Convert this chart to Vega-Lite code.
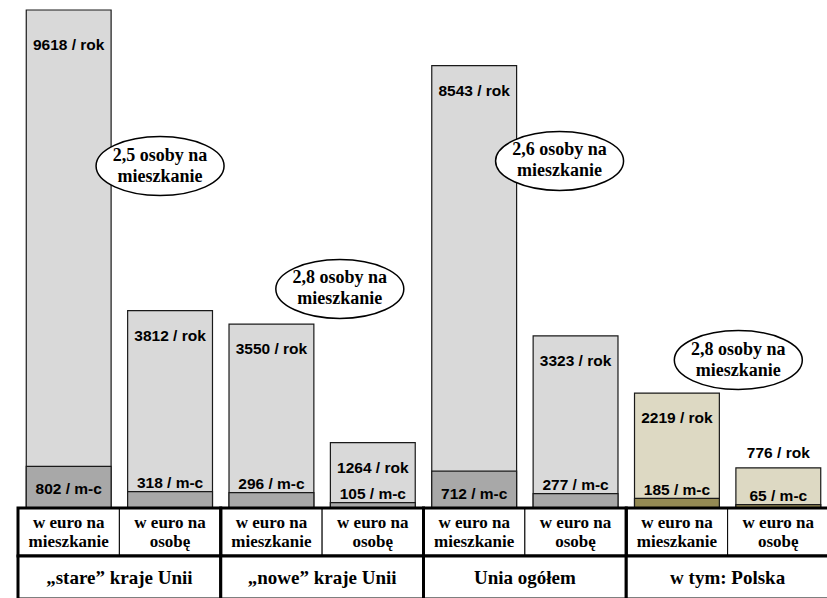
{
  "$schema": "https://vega.github.io/schema/vega-lite/v6.json",
  "padding": {"left": 16, "top": 0, "right": 0, "bottom": 0},
  "background": "white",
  "spacing": 0,
  "bounds": "flush",
  "config": {"view": {"stroke": null}},
  "datasets": {
    "bars": [
      {"col": "A1", "kind": "eu", "yearly": 9618, "monthly": 802, "rok": "9618 / rok", "mc": "802 / m-c", "sub": "w euro na\nmieszkanie"},
      {"col": "A2", "kind": "eu", "yearly": 3812, "monthly": 318, "rok": "3812 / rok", "mc": "318 / m-c", "sub": "w euro na\nosobę"},
      {"col": "B1", "kind": "eu", "yearly": 3550, "monthly": 296, "rok": "3550 / rok", "mc": "296 / m-c", "sub": "w euro na\nmieszkanie"},
      {"col": "B2", "kind": "eu", "yearly": 1264, "monthly": 105, "rok": "1264 / rok", "mc": "105 / m-c", "sub": "w euro na\nosobę"},
      {"col": "C1", "kind": "eu", "yearly": 8543, "monthly": 712, "rok": "8543 / rok", "mc": "712 / m-c", "sub": "w euro na\nmieszkanie"},
      {"col": "C2", "kind": "eu", "yearly": 3323, "monthly": 277, "rok": "3323 / rok", "mc": "277 / m-c", "sub": "w euro na\nosobę"},
      {"col": "D1", "kind": "pl", "yearly": 2219, "monthly": 185, "rok": "2219 / rok", "mc": "185 / m-c", "sub": "w euro na\nmieszkanie"},
      {"col": "D2", "kind": "pl", "yearly": 776, "monthly": 65, "rok": "776 / rok", "mc": "65 / m-c", "sub": "w euro na\nosobę"}
    ],
    "notes": [
      {"id": 1, "col": "A2", "ey": 6605, "note": "2,5 osoby na\nmieszkanie"},
      {"id": 2, "col": "B2", "ey": 4230, "note": "2,8 osoby na\nmieszkanie"},
      {"id": 3, "col": "C2", "ey": 6702, "note": "2,6 osoby na\nmieszkanie"},
      {"id": 4, "col": "D2", "ey": 2858, "note": "2,8 osoby na\nmieszkanie"}
    ],
    "groups": [
      {"group": "„stare” kraje Unii"},
      {"group": "„nowe” kraje Unii"},
      {"group": "Unia ogółem"},
      {"group": "w tym: Polska"}
    ]
  },
  "vconcat": [
    {
      "width": 811,
      "height": 508,
      "data": {"name": "bars"},
      "encoding": {
        "x": {"field": "col", "type": "nominal", "sort": null, "axis": null,
              "scale": {"domain": ["A1","A2","B1","B2","C1","C2","D1","D2"], "paddingInner": 0.163, "paddingOuter": 0.0815}}
      },
      "layer": [
        {
          "mark": {"type": "bar", "stroke": "#1a1a1a", "strokeWidth": 1.2},
          "encoding": {
            "y": {"field": "yearly", "type": "quantitative", "axis": null, "scale": {"domain": [0, 9811], "nice": false}},
            "fill": {"condition": {"test": "datum.kind === 'pl'", "value": "#ddd9c3"}, "value": "#d9d9d9"}
          }
        },
        {
          "mark": {"type": "bar", "stroke": "#1a1a1a", "strokeWidth": 1.2},
          "encoding": {
            "y": {"field": "monthly", "type": "quantitative", "axis": null, "scale": {"domain": [0, 9811], "nice": false}},
            "fill": {"condition": {"test": "datum.kind === 'pl'", "value": "#948a54"}, "value": "#a8a8a8"}
          }
        },
        {
          "transform": [{"filter": "datum.yearly > 9000"}],
          "mark": {"type": "text", "font": "Liberation Sans", "fontWeight": "bold", "fontSize": 15.5, "baseline": "middle", "dy": 35, "color": "black"},
          "encoding": {
            "y": {"field": "yearly", "type": "quantitative", "axis": null, "scale": {"domain": [0, 9811], "nice": false}},
            "text": {"field": "rok"}
          }
        },
        {
          "transform": [{"filter": "datum.yearly > 1000 && datum.yearly < 9000"}],
          "mark": {"type": "text", "font": "Liberation Sans", "fontWeight": "bold", "fontSize": 15.5, "baseline": "middle", "dy": 25, "color": "black"},
          "encoding": {
            "y": {"field": "yearly", "type": "quantitative", "axis": null, "scale": {"domain": [0, 9811], "nice": false}},
            "text": {"field": "rok"}
          }
        },
        {
          "transform": [{"filter": "datum.yearly < 1000"}],
          "mark": {"type": "text", "font": "Liberation Sans", "fontWeight": "bold", "fontSize": 15.5, "baseline": "middle", "dy": -14.5, "color": "black"},
          "encoding": {
            "y": {"field": "yearly", "type": "quantitative", "axis": null, "scale": {"domain": [0, 9811], "nice": false}},
            "text": {"field": "rok"}
          }
        },
        {
          "transform": [{"filter": "datum.monthly > 500"}],
          "mark": {"type": "text", "font": "Liberation Sans", "fontWeight": "bold", "fontSize": 15.5, "baseline": "middle", "dy": 23, "color": "black"},
          "encoding": {
            "y": {"field": "monthly", "type": "quantitative", "axis": null, "scale": {"domain": [0, 9811], "nice": false}},
            "text": {"field": "mc"}
          }
        },
        {
          "transform": [{"filter": "datum.monthly < 500"}],
          "mark": {"type": "text", "font": "Liberation Sans", "fontWeight": "bold", "fontSize": 15.5, "baseline": "middle", "dy": -8.5, "color": "black"},
          "encoding": {
            "y": {"field": "monthly", "type": "quantitative", "axis": null, "scale": {"domain": [0, 9811], "nice": false}},
            "text": {"field": "mc"}
          }
        },
        {
          "data": {"name": "notes"},
          "transform": [{"filter": "datum.id == 1"}],
          "mark": {"type": "point", "shape": "M-1,0 A1,0.46 0 1,1 1,0 A1,0.46 0 1,1 -1,0 Z", "size": 16384, "filled": true, "fill": "white", "stroke": "black", "strokeWidth": 1.5, "opacity": 1, "xOffset": -10},
          "encoding": {"y": {"field": "ey", "type": "quantitative", "axis": null, "scale": {"domain": [0, 9811], "nice": false}}}
        },
        {
          "data": {"name": "notes"},
          "transform": [{"filter": "datum.id == 2"}],
          "mark": {"type": "point", "shape": "M-1,0 A1,0.46 0 1,1 1,0 A1,0.46 0 1,1 -1,0 Z", "size": 16384, "filled": true, "fill": "white", "stroke": "black", "strokeWidth": 1.5, "opacity": 1, "xOffset": -33},
          "encoding": {"y": {"field": "ey", "type": "quantitative", "axis": null, "scale": {"domain": [0, 9811], "nice": false}}}
        },
        {
          "data": {"name": "notes"},
          "transform": [{"filter": "datum.id == 3"}],
          "mark": {"type": "point", "shape": "M-1,0 A1,0.46 0 1,1 1,0 A1,0.46 0 1,1 -1,0 Z", "size": 16384, "filled": true, "fill": "white", "stroke": "black", "strokeWidth": 1.5, "opacity": 1, "xOffset": -16},
          "encoding": {"y": {"field": "ey", "type": "quantitative", "axis": null, "scale": {"domain": [0, 9811], "nice": false}}}
        },
        {
          "data": {"name": "notes"},
          "transform": [{"filter": "datum.id == 4"}],
          "mark": {"type": "point", "shape": "M-1,0 A1,0.46 0 1,1 1,0 A1,0.46 0 1,1 -1,0 Z", "size": 16384, "filled": true, "fill": "white", "stroke": "black", "strokeWidth": 1.5, "opacity": 1, "xOffset": -40},
          "encoding": {"y": {"field": "ey", "type": "quantitative", "axis": null, "scale": {"domain": [0, 9811], "nice": false}}}
        },
        {
          "data": {"name": "notes"},
          "transform": [{"filter": "datum.id == 1"}],
          "mark": {"type": "text", "font": "Liberation Serif", "fontWeight": "bold", "fontSize": 18, "lineBreak": "\n", "lineHeight": 21, "baseline": "middle", "dy": -10.5, "color": "black", "xOffset": -10},
          "encoding": {"y": {"field": "ey", "type": "quantitative", "axis": null, "scale": {"domain": [0, 9811], "nice": false}}, "text": {"field": "note"}}
        },
        {
          "data": {"name": "notes"},
          "transform": [{"filter": "datum.id == 2"}],
          "mark": {"type": "text", "font": "Liberation Serif", "fontWeight": "bold", "fontSize": 18, "lineBreak": "\n", "lineHeight": 21, "baseline": "middle", "dy": -10.5, "color": "black", "xOffset": -33},
          "encoding": {"y": {"field": "ey", "type": "quantitative", "axis": null, "scale": {"domain": [0, 9811], "nice": false}}, "text": {"field": "note"}}
        },
        {
          "data": {"name": "notes"},
          "transform": [{"filter": "datum.id == 3"}],
          "mark": {"type": "text", "font": "Liberation Serif", "fontWeight": "bold", "fontSize": 18, "lineBreak": "\n", "lineHeight": 21, "baseline": "middle", "dy": -10.5, "color": "black", "xOffset": -16},
          "encoding": {"y": {"field": "ey", "type": "quantitative", "axis": null, "scale": {"domain": [0, 9811], "nice": false}}, "text": {"field": "note"}}
        },
        {
          "data": {"name": "notes"},
          "transform": [{"filter": "datum.id == 4"}],
          "mark": {"type": "text", "font": "Liberation Serif", "fontWeight": "bold", "fontSize": 18, "lineBreak": "\n", "lineHeight": 21, "baseline": "middle", "dy": -10.5, "color": "black", "xOffset": -40},
          "encoding": {"y": {"field": "ey", "type": "quantitative", "axis": null, "scale": {"domain": [0, 9811], "nice": false}}, "text": {"field": "note"}}
        }
      ]
    },
    {
      "width": 811,
      "height": 48,
      "layer": [
        {
          "data": {"name": "bars"},
          "mark": {"type": "rect", "fill": "white", "stroke": "black", "strokeWidth": 1},
          "encoding": {"x": {"field": "col", "type": "nominal", "sort": null, "axis": null, "scale": {"paddingInner": 0, "paddingOuter": 0}}}
        },
        {
          "data": {"name": "bars"},
          "mark": {"type": "text", "font": "Liberation Serif", "fontWeight": "bold", "fontSize": 17, "lineBreak": "\n", "lineHeight": 18.5, "baseline": "middle", "dy": -9, "align": "center", "color": "black"},
          "encoding": {"x": {"field": "col", "type": "nominal", "sort": null, "axis": null, "scale": {"paddingInner": 0, "paddingOuter": 0}}, "text": {"field": "sub"}}
        },
        {
          "data": {"name": "groups"},
          "mark": {"type": "rect", "fillOpacity": 0, "fill": "white", "stroke": "black", "strokeWidth": 3},
          "encoding": {"x": {"field": "group", "type": "nominal", "sort": null, "axis": null, "scale": {"paddingInner": 0, "paddingOuter": 0}}}
        }
      ],
      "resolve": {"scale": {"x": "independent"}}
    },
    {
      "width": 811,
      "height": 43,
      "data": {"name": "groups"},
      "encoding": {"x": {"field": "group", "type": "nominal", "sort": null, "axis": null, "scale": {"paddingInner": 0, "paddingOuter": 0}}},
      "layer": [
        {"mark": {"type": "rect", "fill": "white", "stroke": "black", "strokeWidth": 3}},
        {"mark": {"type": "text", "font": "Liberation Serif", "fontWeight": "bold", "fontSize": 19, "baseline": "middle", "align": "center", "color": "black"},
         "encoding": {"text": {"field": "group"}}}
      ]
    }
  ],
  "resolve": {"scale": {"x": "independent", "y": "independent"}}
}
